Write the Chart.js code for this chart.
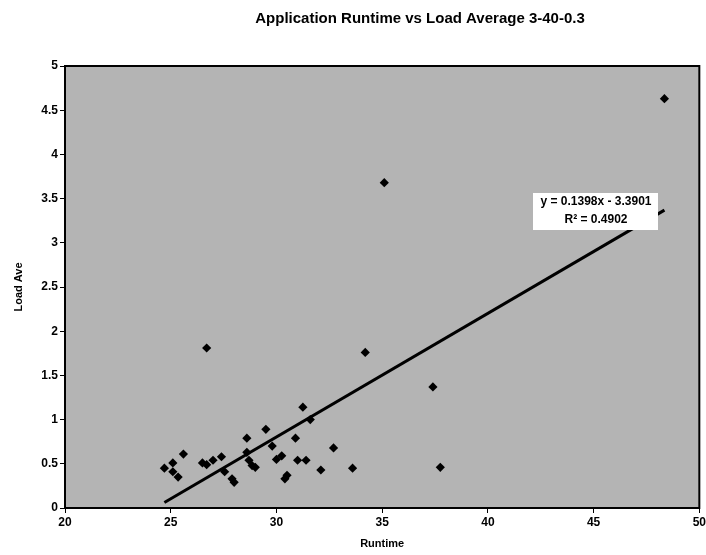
<!DOCTYPE html>
<html>
<head>
<meta charset="utf-8">
<script src="https://cdn.jsdelivr.net/npm/chart.js@4/dist/chart.umd.min.js"></script>
<style>
  html, body { margin: 0; padding: 0; background: #fff; overflow: hidden; }
  #wrap { width: 708px; height: 555px; }
</style>
</head>
<body>
<div id="wrap"><canvas id="chart"></canvas></div>
<script>
const runtime = [24.7, 25.1, 25.1, 25.35, 25.6, 26.5, 26.7, 27.0, 27.4, 27.55, 27.9, 28.0,
  28.6, 28.6, 28.7, 28.85, 29.0, 29.5, 29.8, 30.0, 30.25, 30.5, 30.4, 30.9, 31.0, 31.4,
  31.25, 31.6, 32.1, 32.7, 33.6, 26.7, 34.2, 35.1, 37.4, 37.75, 48.35];
const loadAve = [0.45, 0.51, 0.41, 0.35, 0.61, 0.51, 0.49, 0.54, 0.58, 0.41, 0.33, 0.29,
  0.63, 0.79, 0.54, 0.48, 0.46, 0.89, 0.70, 0.55, 0.59, 0.37, 0.33, 0.79, 0.54, 0.54,
  1.14, 1.00, 0.43, 0.68, 0.45, 1.81, 1.76, 3.68, 1.37, 0.46, 4.63];

// trendline as printed on the chart
const slope = 0.1398;
const intercept = -3.3901;
const rSquared = 0.4902;

const titleText = 'Application Runtime vs Load Average 3-40-0.3';
const FONT = '"Liberation Sans", Arial, sans-serif';

const points = runtime.map((x, i) => ({ x, y: loadAve[i] }));
const xMin = Math.min(...runtime);
const xMax = Math.max(...runtime);
const trend = [xMin, xMax].map((x) => ({ x, y: slope * x + intercept }));

const decor = {
  id: 'decor',
  beforeDraw(chart) {
    const { ctx, chartArea: a } = chart;
    ctx.save();
    ctx.fillStyle = '#b4b4b4';
    ctx.fillRect(a.left, a.top, a.right - a.left, a.bottom - a.top);
    ctx.restore();
  },
  afterDraw(chart) {
    const { ctx, chartArea: a } = chart;
    ctx.save();
    ctx.strokeStyle = '#000';
    ctx.lineWidth = 2;
    ctx.strokeRect(a.left, a.top, a.right - a.left, a.bottom - a.top);

    // title
    ctx.fillStyle = '#000';
    ctx.font = `bold 15px ${FONT}`;
    ctx.textAlign = 'center';
    ctx.textBaseline = 'middle';
    ctx.fillText(titleText, 420, 19);

    // equation label
    ctx.fillStyle = '#fff';
    ctx.fillRect(533, 193, 125, 37);
    ctx.fillStyle = '#000';
    ctx.font = `bold 12px ${FONT}`;
    ctx.fillText(`y = ${slope}x - ${Math.abs(intercept)}`, 596, 202);
    ctx.fillText(`R² = ${rSquared}`, 596, 220);
    ctx.restore();
  },
};

new Chart(document.getElementById('chart'), {
  type: 'scatter',
  data: {
    datasets: [
      {
        label: 'Load Ave',
        data: points,
        pointStyle: 'rectRot',
        pointRadius: 4.6,
        backgroundColor: '#000',
        borderColor: '#000',
        borderWidth: 0,
      },
      {
        label: 'Linear',
        type: 'line',
        data: trend,
        borderColor: '#000',
        borderWidth: 3,
        pointRadius: 0,
        fill: false,
      },
    ],
  },
  plugins: [decor],
  options: {
    responsive: true,
    maintainAspectRatio: false,
    animation: false,
    layout: { padding: { top: 66, left: 0, right: 0, bottom: 0 } },
    plugins: {
      legend: { display: false },
      tooltip: { enabled: false },
    },
    scales: {
      x: {
        type: 'linear',
        min: 20,
        max: 50,
        afterFit(scale) { scale.height = 47; },
        ticks: { stepSize: 5, color: '#000', font: { family: FONT, size: 12, weight: 'bold' }, padding: 2 },
        grid: { drawOnChartArea: false, color: '#000', tickLength: 5, lineWidth: 1 },
        border: { color: '#000', width: 2 },
        title: { display: true, text: 'Runtime', color: '#000', font: { family: FONT, size: 11, weight: 'bold' }, padding: { top: 0, bottom: 4 } },
      },
      y: {
        min: 0,
        max: 5,
        afterFit(scale) { scale.width = 65; },
        ticks: { stepSize: 0.5, color: '#000', font: { family: FONT, size: 12, weight: 'bold' }, padding: 2, callback: (v) => String(v) },
        grid: { drawOnChartArea: false, color: '#000', tickLength: 5, lineWidth: 1 },
        border: { color: '#000', width: 2 },
        title: { display: true, text: 'Load Ave', color: '#000', font: { family: FONT, size: 11, weight: 'bold' }, padding: { top: 12, bottom: 0 } },
      },
    },
  },
});
</script>
</body>
</html>
